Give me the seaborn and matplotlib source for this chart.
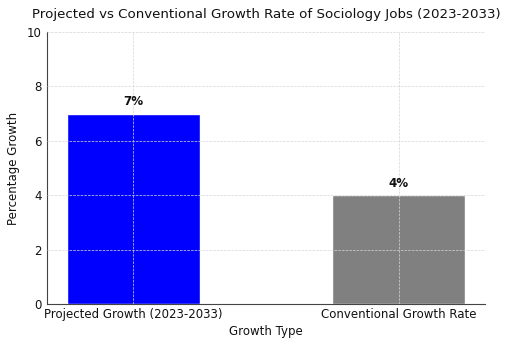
import matplotlib
matplotlib.use("Agg")
import matplotlib.pyplot as plt
import seaborn as sns
import pandas as pd

categories = ["Projected Growth (2023-2033)", "Conventional Growth Rate"]
growth = [7, 4]
bar_colors = ["blue", "grey"]
value_labels = ["7%", "4%"]

sns.set_style("white")
plt.rcParams["font.family"] = ["DejaVu Sans"]

df = pd.DataFrame({"Growth Type": categories, "Percentage Growth": growth})

fig = plt.figure(figsize=(5.12, 3.48), dpi=100)
ax = fig.add_axes([0.092, 0.126, 0.855, 0.782])

sns.barplot(data=df, x="Growth Type", y="Percentage Growth", hue="Growth Type",
            palette=bar_colors, width=0.5, saturation=1, legend=False, ax=ax)

for i, (v, lab) in enumerate(zip(growth, value_labels)):
    ax.text(i, v + 0.2, lab, ha="center", va="bottom", fontsize=8.6,
            fontweight="bold", color="#111111")

ax.set_ylim(0, 10)
ax.set_xlim(-0.325, 1.325)
ax.set_title("Projected vs Conventional Growth Rate of Sociology Jobs (2023-2033)",
             fontsize=9.6, color="#111111", pad=10)
ax.set_xlabel("Growth Type", fontsize=8.5, color="#111111", labelpad=3)
ax.set_ylabel("Percentage Growth", fontsize=8.5, color="#111111", labelpad=5)
ax.tick_params(axis="both", labelsize=8.5, colors="#111111", length=3, width=0.6, pad=1)
ax.tick_params(axis="x", pad=0)
ax.grid(True, linestyle="--", linewidth=0.5, color="#d5d5d5")
ax.set_axisbelow(False)
for s in ["top", "right"]:
    ax.spines[s].set_visible(False)
for s in ["left", "bottom"]:
    ax.spines[s].set_color("#444444")
    ax.spines[s].set_linewidth(0.8)

fig.savefig("out.png", dpi=100)
